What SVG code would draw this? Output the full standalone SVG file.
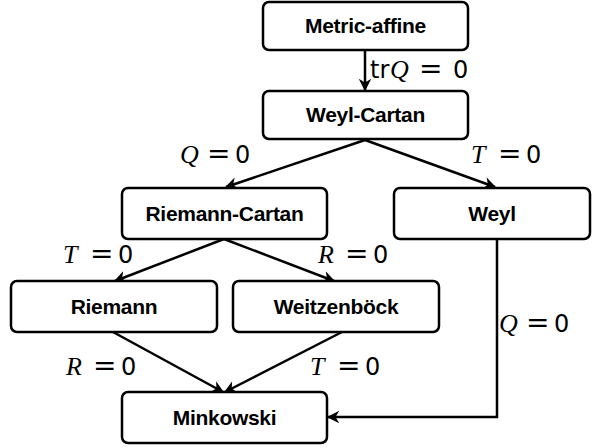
<svg xmlns="http://www.w3.org/2000/svg" width="593" height="448" viewBox="0 0 593 448">
<style>
.box{fill:#fff;stroke:#000;stroke-width:2.5}
.lbl{font-family:"Liberation Sans",Arial,sans-serif;font-weight:bold;font-size:21px;text-anchor:middle;letter-spacing:-0.3px}
.edge{fill:none;stroke:#000;stroke-width:2.5}
.m{font-family:"DejaVu Sans","Liberation Sans",sans-serif;font-size:24px}
.e{font-family:"DejaVu Sans","Liberation Sans",sans-serif;font-size:28px}
.v{font-family:"Liberation Serif","Times New Roman",serif;font-style:italic;font-size:26px}
</style>
<defs>
<marker id="ah" viewBox="0 0 10 10" refX="9" refY="5" markerWidth="5" markerHeight="5" orient="auto" markerUnits="strokeWidth">
<path d="M0,0 L10,5 L0,10 L3,5 z" fill="#000"/>
</marker>
</defs>
<g id="connectors">
<line class="edge" x1="365" y1="50" x2="365" y2="90" marker-end="url(#ah)"/>
<line class="edge" x1="365" y1="140" x2="226" y2="187" marker-end="url(#ah)"/>
<line class="edge" x1="365" y1="140" x2="495" y2="187" marker-end="url(#ah)"/>
<line class="edge" x1="224" y1="239" x2="115" y2="281" marker-end="url(#ah)"/>
<line class="edge" x1="224" y1="239" x2="334" y2="281" marker-end="url(#ah)"/>
<line class="edge" x1="113" y1="332" x2="223" y2="392" marker-end="url(#ah)"/>
<line class="edge" x1="342" y1="332" x2="225" y2="392" marker-end="url(#ah)"/>
<polyline class="edge" points="497,239 497,417 328,417" marker-end="url(#ah)"/>
<text y="78"><tspan class="m" x="370">tr</tspan><tspan class="v" x="390">Q</tspan><tspan class="e" x="419">=</tspan><tspan class="m" x="453">0</tspan></text>
<text y="163"><tspan class="v" x="180">Q</tspan><tspan class="e" x="207">=</tspan><tspan class="m" x="235">0</tspan></text>
<text y="163"><tspan class="v" x="471">T</tspan><tspan class="e" x="498">=</tspan><tspan class="m" x="526">0</tspan></text>
<text y="263"><tspan class="v" x="63">T</tspan><tspan class="e" x="90">=</tspan><tspan class="m" x="118">0</tspan></text>
<text y="263"><tspan class="v" x="318">R</tspan><tspan class="e" x="345">=</tspan><tspan class="m" x="373">0</tspan></text>
<text y="375"><tspan class="v" x="66">R</tspan><tspan class="e" x="93">=</tspan><tspan class="m" x="121">0</tspan></text>
<text y="375"><tspan class="v" x="310">T</tspan><tspan class="e" x="337">=</tspan><tspan class="m" x="365">0</tspan></text>
<text y="332"><tspan class="v" x="499">Q</tspan><tspan class="e" x="526">=</tspan><tspan class="m" x="554">0</tspan></text>
</g>
<g id="metric-affine"><rect class="box" x="263" y="2" width="205" height="48" rx="6"/><text class="lbl" x="365.5" y="33">Metric-affine</text></g>
<g id="weyl-cartan"><rect class="box" x="263" y="91" width="205" height="48" rx="6"/><text class="lbl" x="365.5" y="122">Weyl-Cartan</text></g>
<g id="riemann-cartan"><rect class="box" x="122" y="188" width="205" height="51" rx="6"/><text class="lbl" x="224.5" y="221">Riemann-Cartan</text></g>
<g id="weyl"><rect class="box" x="394" y="188" width="196" height="51" rx="6"/><text class="lbl" x="492" y="221">Weyl</text></g>
<g id="riemann"><rect class="box" x="11" y="281" width="206" height="51" rx="6"/><text class="lbl" x="114" y="314">Riemann</text></g>
<g id="weitzenbock"><rect class="box" x="233" y="281" width="206" height="51" rx="6"/><text class="lbl" x="336" y="314">Weitzenböck</text></g>
<g id="minkowski"><rect class="box" x="122" y="392" width="205" height="51" rx="6"/><text class="lbl" x="224.5" y="425">Minkowski</text></g>
</svg>
